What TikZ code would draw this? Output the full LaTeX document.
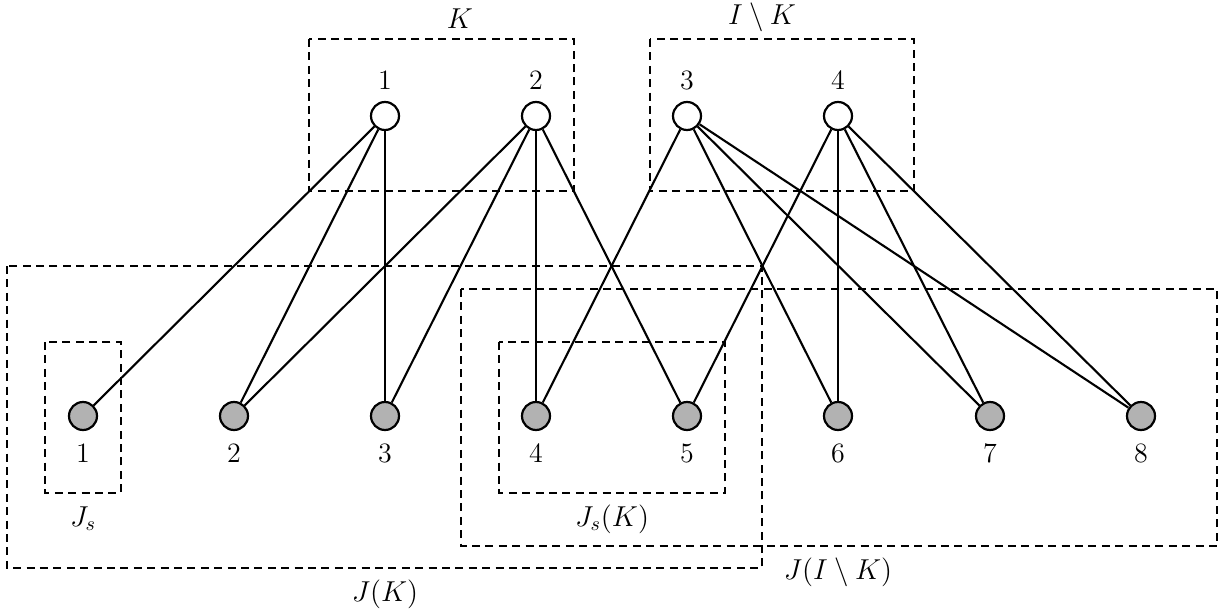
\documentclass[tikz,border=0pt]{standalone}
\usepackage{amsmath}
\begin{document}
\begin{tikzpicture}[x=0.5pt,y=-0.5pt,
  font=\fontsize{14}{17}\selectfont,
  vert/.style={circle,draw,line width=1.1pt,minimum size=14pt,inner sep=0pt},
  topv/.style={vert,fill=white},
  botv/.style={vert,fill=black!30},
  edge/.style={line width=1.05pt},
  dbox/.style={line width=1.05pt,dash pattern=on 4pt off 2.7pt},
  lab/.style={anchor=base,inner sep=0pt}]
\useasboundingbox (0,0) rectangle (1225,615);
% boxes
\draw[dbox] (309,39) rectangle (574,191);
\draw[dbox] (650,39) rectangle (914,191);
\draw[dbox] (45,342) rectangle (121,493);
\draw[dbox] (499,342) rectangle (725,493);
\draw[dbox] (7,266) rectangle (762,568);
\draw[dbox] (461,289) rectangle (1217,546);
% box labels
\node[lab] (lK) at (460,29) {$K$};
\node[lab] (lIK) at (762,25) {$I\setminus K$};
\node[lab] (lJs) at (83,526) {$J_s$};
\node[lab] (lJsK) at (612,526) {$J_s(K)$};
\node[lab] (lJK) at (385,601) {$J(K)$};
\node[lab] (lJIK) at (838,579) {$J(I\setminus K)$};
% top vertices
\foreach \i/\x in {1/385,2/536,3/687,4/838}{
  \node[topv] (t\i) at (\x,116) {};
  \node[lab] (tl\i) at (\x,90) {\i};
}
% bottom vertices
\foreach \i/\x in {1/83,2/234,3/385,4/536,5/687,6/838,7/990,8/1141}{
  \node[botv] (b\i) at (\x,416) {};
  \node[lab] (bl\i) at (\x,462) {\i};
}
% edges
\foreach \a/\b in {1/1,1/2,1/3,2/2,2/3,2/4,2/5,3/4,3/6,3/7,3/8,4/5,4/6,4/7,4/8}{
  \draw[edge] (t\a) -- (b\b);
}
\end{tikzpicture}
\end{document}
